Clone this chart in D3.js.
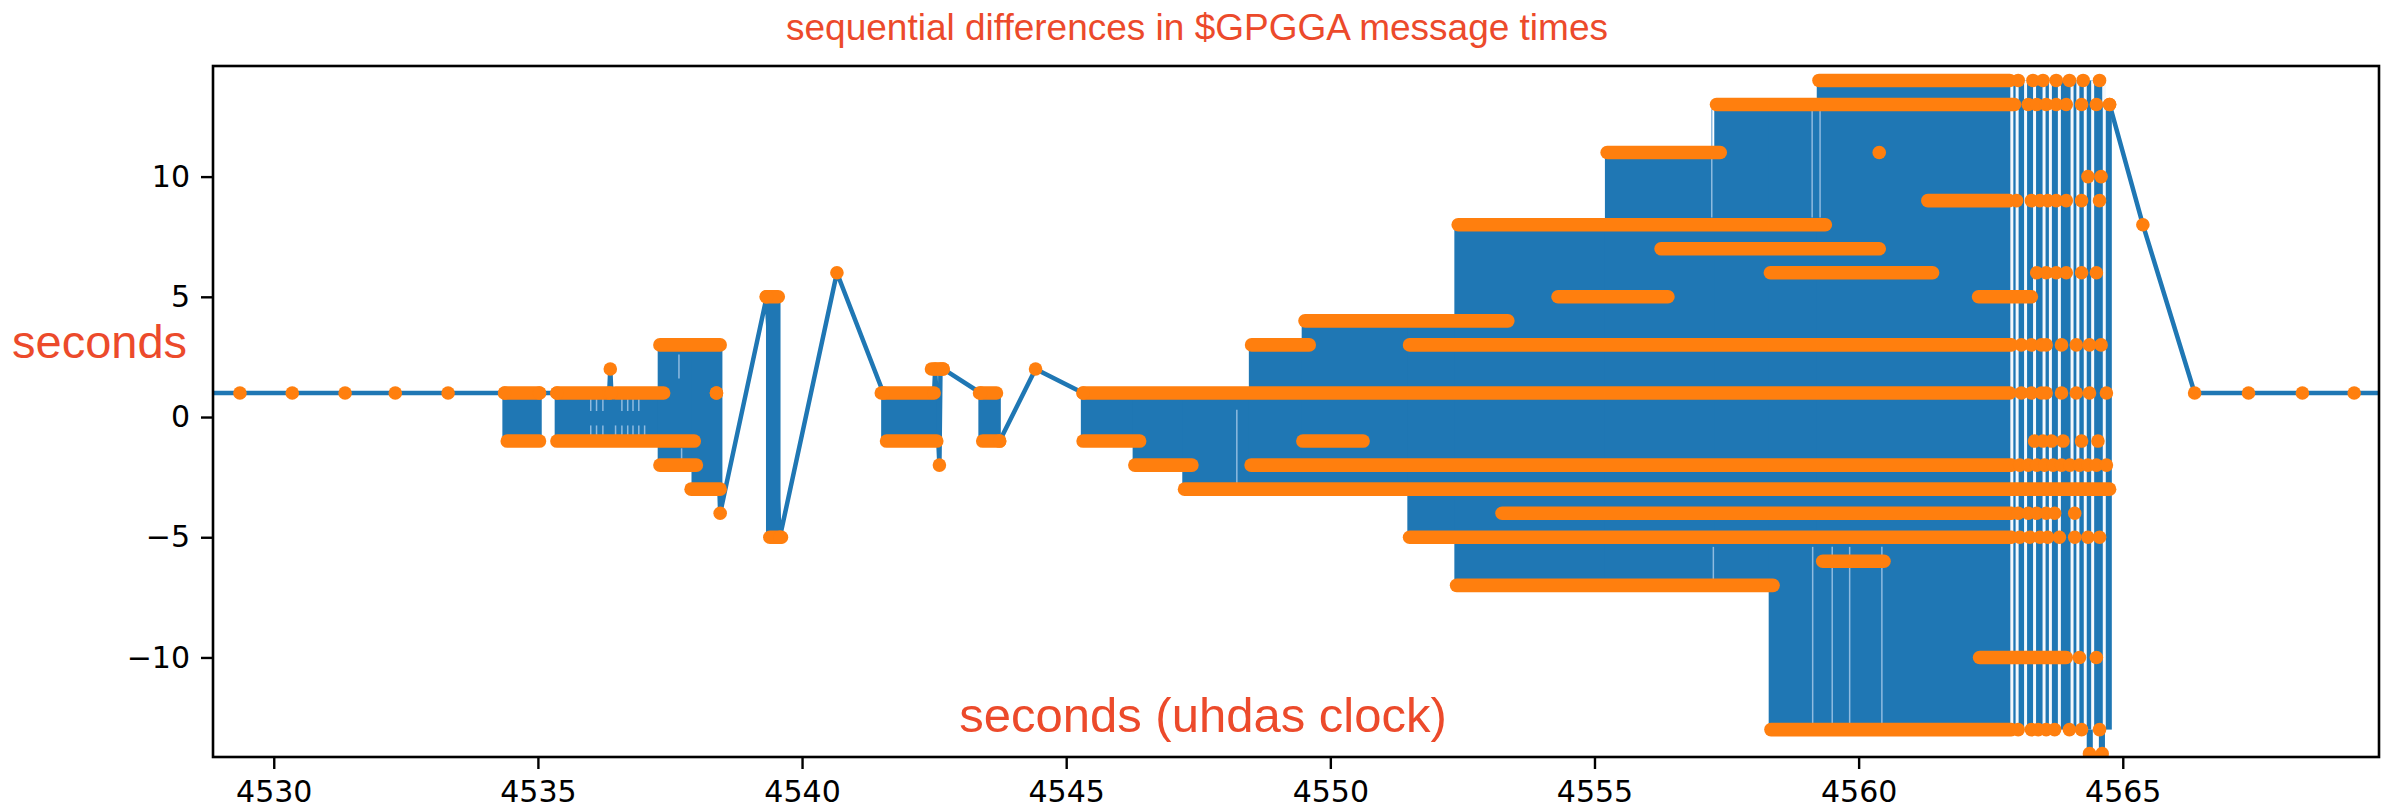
<!DOCTYPE html>
<html>
<head>
<meta charset="utf-8">
<script src="https://cdn.jsdelivr.net/npm/d3@7"></script>
<style>
  html, body { margin: 0; padding: 0; background: #fff; }
  svg { display: block; }
</style>
</head>
<body>
<script>
// ---------------- data ----------------
const xTicks = [4530, 4535, 4540, 4545, 4550, 4555, 4560, 4565];
const yTicks = [-10, -5, 0, 5, 10];

// sparse part of the trace: [uhdas seconds, difference]; null = hidden inside a burst
const trace = [
  [4528.37, 1], [4529.36, 1], [4530.35, 1], [4531.35, 1], [4532.30, 1], [4533.30, 1],
  [4534.37, 1], [4535.03, 1], [4535.36, 1],
  [4536.35, 1], [4536.37, 2], [4536.39, 1],
  [4538.38, 1], [4538.45, -4],
  [4539.33, 5], [4539.58, -5],
  [4540.66, 6],
  [4541.54, 1], [4542.50, 1], [4542.52, 2], [4542.60, -2], [4542.62, 2], [4542.67, 2],
  [4543.38, 1], [4543.74, -1],
  [4544.42, 2],
  [4545.32, 1],
  [4555.00, null],
  [4564.75, 13],
  [4565.38, 8],
  [4566.36, 1], [4567.38, 1], [4568.40, 1], [4569.38, 1], [4570.37, 1]
];

// dense bursts: the line swings so fast it fills [low, high] over [x0, x1]
const bursts = [
  [4534.37, 4535.03, -1, 1],
  [4535.36, 4537.31, -1, 1],
  [4537.31, 4537.95, -2, 3],
  [4537.95, 4538.45, -3, 3],
  [4539.36, 4539.55, -5, 5],
  [4541.54, 4542.50, -1, 1],
  [4543.38, 4543.72, -1, 1],
  [4545.32, 4546.30, -1, 1],
  [4546.30, 4547.24, -2, 1],
  [4547.24, 4548.50, -3, 1],
  [4548.50, 4549.50, -3, 3],
  [4549.50, 4551.50, -3, 4],
  [4551.50, 4552.39, -5, 4],
  [4552.39, 4555.24, -7, 8],
  [4555.24, 4557.31, -7, 11],
  [4557.31, 4558.34, -7, 13],
  [4558.34, 4559.25, -13, 13],
  [4559.25, 4564.57, -13, 14],
  [4564.57, 4564.75, -13, 13],
  [4564.36, 4564.39, -14, -13],
  [4564.59, 4564.62, -14, -13]
];

// runs of closely packed points at one level: [level, x0, x1]
const runs = [
  [1, 4534.37, 4535.03], [-1, 4534.42, 4535.03],
  [1, 4535.36, 4536.33], [1, 4536.47, 4537.38], [-1, 4535.36, 4537.96],
  [3, 4537.31, 4538.45], [-2, 4537.31, 4538.00], [-3, 4537.90, 4538.45], [1, 4538.38, 4538.38],
  [5, 4539.32, 4539.55], [-5, 4539.39, 4539.61],
  [1, 4541.50, 4542.45], [-1, 4541.60, 4542.55], [2, 4542.45, 4542.67],
  [1, 4543.36, 4543.68], [-1, 4543.42, 4543.74],
  [1, 4545.32, 4562.86],
  [-1, 4545.32, 4546.39], [-1, 4549.48, 4550.62],
  [-2, 4546.30, 4547.38], [-2, 4548.50, 4562.89],
  [-3, 4547.24, 4564.75],
  [3, 4548.51, 4549.60], [3, 4551.50, 4562.89],
  [4, 4549.52, 4553.36],
  [-4, 4553.25, 4562.89],
  [-5, 4551.50, 4562.89],
  [8, 4552.42, 4559.37],
  [-7, 4552.39, 4558.38],
  [5, 4554.31, 4556.39], [5, 4562.27, 4563.27],
  [7, 4556.26, 4560.39],
  [11, 4555.24, 4557.38], [11, 4560.39, 4560.39],
  [13, 4557.31, 4562.95],
  [-13, 4558.34, 4562.89],
  [6, 4558.33, 4561.40],
  [14, 4559.25, 4562.86],
  [-6, 4559.32, 4560.48],
  [9, 4561.31, 4562.85],
  [-10, 4562.29, 4563.93]
];

// individual points in the sparse tail of the big burst: [x, level]
const combDots = [
  [4563.02, 14], [4563.30, 14], [4563.49, 14], [4563.74, 14], [4563.99, 14], [4564.25, 14], [4564.56, 14],
  [4563.21, 13], [4563.37, 13], [4563.55, 13], [4563.74, 13], [4563.93, 13], [4564.22, 13], [4564.50, 13], [4564.75, 13],
  [4564.34, 10], [4564.59, 10],
  [4562.99, 9], [4563.27, 9], [4563.43, 9], [4563.58, 9], [4563.74, 9], [4563.93, 9], [4564.22, 9], [4564.56, 9],
  [4563.37, 6], [4563.55, 6], [4563.74, 6], [4563.93, 6], [4564.22, 6], [4564.50, 6],
  [4563.08, 3], [4563.27, 3], [4563.46, 3], [4563.55, 3], [4563.84, 3], [4564.12, 3], [4564.37, 3], [4564.59, 3],
  [4563.08, 1], [4563.27, 1], [4563.46, 1], [4563.55, 1], [4563.84, 1], [4564.12, 1], [4564.37, 1], [4564.69, 1],
  [4563.33, -1], [4563.49, -1], [4563.65, -1], [4563.87, -1], [4564.22, -1], [4564.53, -1],
  [4563.05, -2], [4563.21, -2], [4563.37, -2], [4563.52, -2], [4563.68, -2], [4563.84, -2], [4564.00, -2], [4564.18, -2], [4564.34, -2], [4564.50, -2], [4564.69, -2],
  [4563.02, -4], [4563.21, -4], [4563.37, -4], [4563.55, -4], [4563.71, -4], [4564.09, -4],
  [4563.05, -5], [4563.24, -5], [4563.43, -5], [4563.58, -5], [4563.80, -5], [4564.09, -5], [4564.34, -5], [4564.56, -5],
  [4564.18, -10], [4564.50, -10],
  [4563.02, -13], [4563.27, -13], [4563.40, -13], [4563.55, -13], [4563.71, -13], [4563.99, -13], [4564.22, -13], [4564.56, -13],
  [4564.37, -14], [4564.61, -14]
];

// empty slots between successive swings in the sparse tail (span -13..14)
const combGaps = [4562.90, 4563.00, 4563.16, 4563.33, 4563.51, 4563.63, 4563.80, 4564.04, 4564.15, 4564.29, 4564.43, 4564.65];

// faint slits inside the bursts: [x, levelTop, levelBottom]
const slits = [
  [4536.00, 0.85, 0.25], [4536.11, 0.85, 0.25], [4536.23, 0.85, 0.25], [4536.59, 0.85, 0.25],
  [4536.70, 0.85, 0.25], [4536.80, 0.85, 0.25], [4536.91, 0.85, 0.25],
  [4536.00, -0.35, -0.85], [4536.11, -0.35, -0.85], [4536.23, -0.35, -0.85], [4536.47, -0.35, -0.85],
  [4536.59, -0.35, -0.85], [4536.70, -0.35, -0.85], [4536.80, -0.35, -0.85], [4536.91, -0.35, -0.85], [4537.02, -0.35, -0.85],
  [4537.67, 2.6, 1.6], [4537.72, -1.3, -2.0],
  [4548.23, 0.3, -2.8],
  [4557.22, 12.8, 8.3], [4557.25, -5.4, -6.9],
  [4559.12, 12.8, 8.3], [4559.27, 12.8, 8.3],
  [4559.13, -5.4, -12.9], [4559.50, -5.4, -12.9], [4559.83, -5.4, -12.9], [4560.44, -5.4, -12.9]
];

const titleText = "sequential differences in $GPGGA message times";
const xLabelText = "seconds (uhdas clock)";
const yLabelText = "seconds";

// ---------------- layout ----------------
const W = 2394, H = 808;
const plot = { left: 213, right: 2379, top: 66, bottom: 757 };
const blue = "#1f77b4", orange = "#ff7f0e", labelRed = "#ec4a2b";
const lineW = 4.5, dotR = 6.8;

const x = d3.scaleLinear().domain([4528.85, 4569.85]).range([plot.left, plot.right]);
const y = d3.scaleLinear().domain([-14.14, 14.6]).range([plot.bottom, plot.top]);

const svg = d3.select("body").append("svg").attr("width", W).attr("height", H);

svg.append("defs").append("clipPath").attr("id", "clip")
  .append("rect")
  .attr("x", plot.left).attr("y", plot.top)
  .attr("width", plot.right - plot.left).attr("height", plot.bottom - plot.top);

const g = svg.append("g").attr("clip-path", "url(#clip)");

// line through the sparse points
g.append("path")
  .datum(trace)
  .attr("fill", "none")
  .attr("stroke", blue)
  .attr("stroke-width", lineW)
  .attr("stroke-linejoin", "round")
  .attr("d", d3.line().defined(d => d[1] !== null).x(d => x(d[0])).y(d => y(d[1])));

// dense bursts
g.selectAll("rect.burst").data(bursts).enter().append("rect")
  .attr("class", "burst")
  .attr("x", d => x(d[0]) - lineW / 2)
  .attr("width", d => x(d[1]) - x(d[0]) + lineW)
  .attr("y", d => y(d[3]))
  .attr("height", d => y(d[2]) - y(d[3]))
  .attr("fill", blue);

// empty slots in sparse tail
g.selectAll("line.cgap").data(combGaps).enter().append("line")
  .attr("class", "cgap")
  .attr("x1", d => x(d)).attr("x2", d => x(d))
  .attr("y1", y(14)).attr("y2", y(-13))
  .attr("stroke", "#f4f8fc").attr("stroke-width", 3);

// faint slits
g.selectAll("line.slit").data(slits).enter().append("line")
  .attr("class", "slit")
  .attr("x1", d => x(d[0])).attr("x2", d => x(d[0]))
  .attr("y1", d => y(d[1])).attr("y2", d => y(d[2]))
  .attr("stroke", "#8fbbe0").attr("stroke-width", 1.5);

// runs of packed points
g.selectAll("rect.run").data(runs).enter().append("rect")
  .attr("class", "run")
  .attr("x", d => x(d[1]) - dotR)
  .attr("width", d => x(d[2]) - x(d[1]) + 2 * dotR)
  .attr("y", d => y(d[0]) - dotR)
  .attr("height", 2 * dotR)
  .attr("rx", dotR).attr("ry", dotR)
  .attr("fill", orange);

// individual dots
g.selectAll("circle.pt").data(trace.filter(d => d[1] !== null).concat(combDots)).enter().append("circle")
  .attr("class", "pt")
  .attr("cx", d => x(d[0]))
  .attr("cy", d => y(d[1]))
  .attr("r", dotR)
  .attr("fill", orange);

// ---------------- axes ----------------
const tickFont = "DejaVu Sans, sans-serif";
const xAxis = d3.axisBottom(x).tickValues(xTicks).tickFormat(d3.format("d"))
  .tickSize(12).tickSizeOuter(0).tickPadding(12);
const yAxis = d3.axisLeft(y).tickValues(yTicks).tickFormat(d3.format("d"))
  .tickSize(12).tickSizeOuter(0).tickPadding(11);

const gx = svg.append("g").attr("transform", `translate(0,${plot.bottom})`).call(xAxis);
const gy = svg.append("g").attr("transform", `translate(${plot.left},0)`).call(yAxis);
[gx, gy].forEach(a => {
  a.select(".domain").remove();
  a.selectAll(".tick line").attr("stroke", "#000").attr("stroke-width", 2.4);
  a.selectAll(".tick text").attr("fill", "#000")
    .style("font-family", tickFont).style("font-size", "30px");
});

// frame
svg.append("rect")
  .attr("x", plot.left).attr("y", plot.top)
  .attr("width", plot.right - plot.left).attr("height", plot.bottom - plot.top)
  .attr("fill", "none").attr("stroke", "#000").attr("stroke-width", 2.6);

// ---------------- texts ----------------
const labFont = "Liberation Sans, Arial, Helvetica, sans-serif";
svg.append("text").text(titleText)
  .attr("x", W / 2).attr("y", 40).attr("text-anchor", "middle")
  .style("font-family", labFont).style("font-size", "37px").attr("fill", labelRed);
svg.append("text").text(xLabelText)
  .attr("x", 1203).attr("y", 732).attr("text-anchor", "middle")
  .style("font-family", labFont).style("font-size", "49px").attr("fill", labelRed);
svg.append("text").text(yLabelText)
  .attr("x", 12).attr("y", 358).attr("text-anchor", "start")
  .style("font-family", labFont).style("font-size", "47px").attr("fill", labelRed);
</script>
</body>
</html>
